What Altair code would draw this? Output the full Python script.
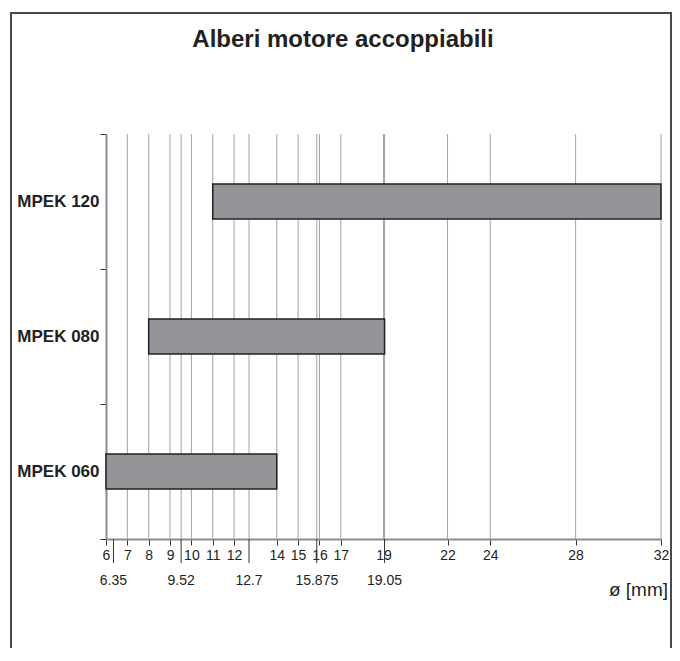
import altair as alt
import pandas as pd

# ---- data ----
models = ["MPEK 120", "MPEK 080", "MPEK 060"]
shaft_min = [11, 8, 6]
shaft_max = [32, 19.05, 14]

mm_ticks = [6, 7, 8, 9, 10, 11, 12, 14, 15, 16, 17, 19, 22, 24, 28, 32]
inch_ticks = [6.35, 9.52, 12.7, 15.875, 19.05]
inch_labels = ["6.35", "9.52", "12.7", "15.875", "19.05"]

title_text = "Alberi motore accoppiabili"
x_title = "ø [mm]"

# ---- layout ----
W, H = 555, 405
FONT = "Liberation Sans, Arial"

bars_df = pd.DataFrame({"model": models, "lo": shaft_min, "hi": shaft_max})
grid_df = pd.DataFrame({"lo": [v for v in mm_ticks if v != 6] + [v for v in inch_ticks if v != 6.35]})
inch_df = pd.DataFrame({"lo": inch_ticks, "label": inch_labels})
one = pd.DataFrame({"k": [0]})

xscale = alt.Scale(domain=[6, 32], nice=False, zero=False)
xaxis = alt.Axis(
    values=mm_ticks, format="d", title=None, grid=False,
    domainColor="#8c8c8c", domainWidth=2, tickColor="#333333", tickSize=6,
    labelFont=FONT, labelFontSize=14, labelColor="#231f20", labelPadding=3,
    labelFlush=False, labelOverlap=False,
)
xenc = alt.X("lo:Q", scale=xscale, axis=xaxis)

frame = alt.Chart(one).mark_rect(fillOpacity=0, stroke="#4a4a4a", strokeWidth=2).encode(
    x=alt.value(-95), x2=alt.value(565), y=alt.value(-121), y2=alt.value(620)
)

grid = alt.Chart(grid_df).mark_rule(color="#a3a3a3", strokeWidth=1).encode(
    x=xenc, y=alt.value(0), y2=alt.value(H)
)

bars = alt.Chart(bars_df).mark_bar(
    fill="#939598", stroke="#231f20", strokeWidth=1.5, size=35
).encode(
    x=xenc,
    x2="hi:Q",
    y=alt.Y(
        "model:N",
        sort=models,
        scale=alt.Scale(paddingInner=0, paddingOuter=0),
        axis=alt.Axis(
            title=None, tickBand="extent", domainColor="#8c8c8c", domainWidth=2,
            tickColor="#333333", tickSize=6, labelFont=FONT, labelFontSize=17,
            labelFontWeight="bold", labelColor="#231f20", labelPadding=1,
        ),
    ),
)

inch_ticks_layer = alt.Chart(inch_df).mark_rule(color="#333333", strokeWidth=1).encode(
    x=xenc, y=alt.value(H), y2=alt.value(H + 24)
)

inch_text = alt.Chart(inch_df).mark_text(
    baseline="middle", align="center", font=FONT, fontSize=14, color="#231f20"
).encode(
    x=xenc, y=alt.value(H + 42), text="label:N"
)

xtitle = alt.Chart(one).mark_text(
    align="right", baseline="middle", font=FONT, fontSize=19, color="#231f20"
).encode(x=alt.value(W + 7), y=alt.value(H + 51), text=alt.value(x_title))

title = alt.Chart(one).mark_text(
    align="center", baseline="alphabetic", font=FONT, fontSize=24, fontWeight="bold", color="#231f20"
).encode(x=alt.value(237), y=alt.value(-87), text=alt.value(title_text))

chart = alt.layer(frame, grid, bars, inch_ticks_layer, inch_text, xtitle, title).properties(
    width=W,
    height=H,
    padding={"left": 98, "top": 126, "right": 11, "bottom": 109},
    autosize=alt.AutoSizeParams(type="none"),
    background="white",
).configure_view(strokeWidth=0)

chart.save("out.html", embed_options={"renderer": "svg", "actions": False})
